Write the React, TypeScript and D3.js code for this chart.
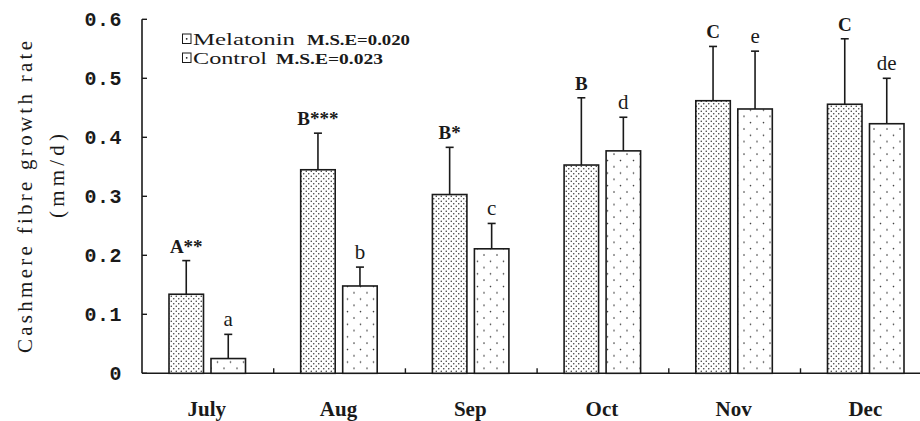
import React from "react";
import * as d3 from "d3";

const months = ["July", "Aug", "Sep", "Oct", "Nov", "Dec"];
const seriesNames = ["Melatonin", "Control"];
const melatoninValues = [0.134, 0.345, 0.303, 0.353, 0.462, 0.456];
const melatoninErrors = [0.057, 0.062, 0.080, 0.114, 0.092, 0.111];
const controlValues = [0.025, 0.148, 0.211, 0.377, 0.448, 0.423];
const controlErrors = [0.041, 0.032, 0.043, 0.057, 0.098, 0.077];
const melatoninLabels = ["A**", "B***", "B*", "B", "C", "C"];
const controlLabels = ["a", "b", "c", "d", "e", "de"];
const yTicks = [0, 0.1, 0.2, 0.3, 0.4, 0.5, 0.6];
const yTickLabels = ["0", "0.1", "0.2", "0.3", "0.4", "0.5", "0.6"];
const legendMSE = ["M.S.E=0.020", "M.S.E=0.023"];

const W = 920;
const H = 421;
const X0 = 142;
const STEP = 131.7;
const Y0 = 373.3;
const YTOP = 19.3;

export default function App() {
  const x = d3.scaleBand<string>().domain(months).range([X0, X0 + STEP * months.length]).padding(0);
  const x1 = d3.scaleBand<string>().domain(seriesNames).range([27, 103.5]).paddingInner(7.5 / 42).paddingOuter(0);
  const y = d3.scaleLinear().domain([0, 0.6]).range([Y0, YTOP]);
  const ink = "#1a1a1a";
  const serif = "Liberation Serif, serif";

  const series = [
    { name: "Melatonin", values: melatoninValues, errors: melatoninErrors, labels: melatoninLabels, fill: "url(#patMel)", bold: true },
    { name: "Control", values: controlValues, errors: controlErrors, labels: controlLabels, fill: "url(#patCtl)", bold: false },
  ];

  return (
    <svg width={W} height={H} style={{ position: "absolute", left: 0, top: 0, background: "#fff" }}>
      <defs>
        <pattern id="patMel" width={5} height={5} patternUnits="userSpaceOnUse">
          <rect width={5} height={5} fill="#fff" />
          <circle cx={1.25} cy={1.25} r={0.75} fill="#333" />
          <circle cx={3.75} cy={3.75} r={0.75} fill="#333" />
        </pattern>
        <pattern id="patCtl" width={13} height={12.6} patternUnits="userSpaceOnUse">
          <rect width={13} height={12.6} fill="#fff" />
          <circle cx={3} cy={3} r={0.8} fill="#333" />
          <circle cx={9.5} cy={9.3} r={0.8} fill="#333" />
        </pattern>
      </defs>

      {/* Y axis title */}
      <text
        transform={`translate(32,197) rotate(-90)`}
        textAnchor="middle"
        fontFamily={serif}
        fontSize={21}
        fill={ink}
        textLength={312}
        lengthAdjust="spacing"
      >
        Cashmere fibre growth rate
      </text>
      <text
        transform={`translate(64,176) rotate(-90)`}
        textAnchor="middle"
        fontFamily={serif}
        fontSize={21}
        fill={ink}
        textLength={84}
        lengthAdjust="spacing"
      >
        (mm/d)
      </text>

      {/* axes */}
      <line x1={X0} x2={X0} y1={YTOP} y2={Y0} stroke={ink} strokeWidth={1.6} />
      <line x1={X0} x2={W} y1={Y0} y2={Y0} stroke={ink} strokeWidth={1.6} />
      {yTicks.map((t, i) => (
        <g key={"yt" + i}>
          <line x1={X0} x2={X0 + 5} y1={y(t)} y2={y(t)} stroke={ink} strokeWidth={1.4} />
          <text
            x={122}
            y={y(t) + 7}
            textAnchor="end"
            fontFamily="Liberation Mono, monospace"
            fontWeight="bold"
            fontSize={20}
            letterSpacing={0.5}
            fill={ink}
          >
            {yTickLabels[i]}
          </text>
        </g>
      ))}
      {months.slice(1).map((m) => (
        <line key={"xt" + m} x1={x(m)!} x2={x(m)!} y1={Y0} y2={Y0 - 5} stroke={ink} strokeWidth={1.4} />
      ))}
      {months.map((m) => (
        <text
          key={"xl" + m}
          x={x(m)! + x.bandwidth() / 2 - 1}
          y={416}
          textAnchor="middle"
          fontFamily={serif}
          fontWeight="bold"
          fontSize={21}
          fill={ink}
        >
          {m}
        </text>
      ))}

      {/* bars */}
      {series.map((s) =>
        months.map((m, i) => {
          const bx = x(m)! + x1(s.name)!;
          const bw = x1.bandwidth();
          const v = s.values[i];
          const top = y(v + s.errors[i]);
          const cx = bx + bw / 2;
          return (
            <g key={s.name + m}>
              <rect x={bx} y={y(v)} width={bw} height={Y0 - y(v)} fill={s.fill} stroke={ink} strokeWidth={1.6} />
              <line x1={cx} x2={cx} y1={y(v)} y2={top} stroke={ink} strokeWidth={1.6} />
              <line x1={cx - 4} x2={cx + 4} y1={top} y2={top} stroke={ink} strokeWidth={1.6} />
              <text
                x={cx}
                y={top - 8}
                textAnchor="middle"
                fontFamily={serif}
                fontWeight={s.bold ? "bold" : "normal"}
                fontSize={s.bold ? 19 : 21}
                fill={ink}
              >
                {s.labels[i]}
              </text>
            </g>
          );
        })
      )}

      {/* legend */}
      {seriesNames.map((n, i) => {
        const ly = 45 + i * 19;
        return (
          <g key={"lg" + n}>
            <rect x={182.5} y={ly - 11} width={8.5} height={9.5} fill="#fff" stroke={ink} strokeWidth={1} />
            <circle cx={186.7} cy={ly - 6.2} r={0.9} fill={ink} />
            <text
              x={193}
              y={ly}
              fontFamily={serif}
              fontSize={16}
              fill={ink}
              textLength={i === 0 ? 102 : 74}
              lengthAdjust="spacingAndGlyphs"
            >
              {n}
            </text>
            <text
              x={i === 0 ? 307 : 276}
              y={ly}
              fontFamily={serif}
              fontWeight="bold"
              fontSize={15}
              fill={ink}
              textLength={i === 0 ? 103 : 107}
              lengthAdjust="spacingAndGlyphs"
            >
              {legendMSE[i]}
            </text>
          </g>
        );
      })}
    </svg>
  );
}
